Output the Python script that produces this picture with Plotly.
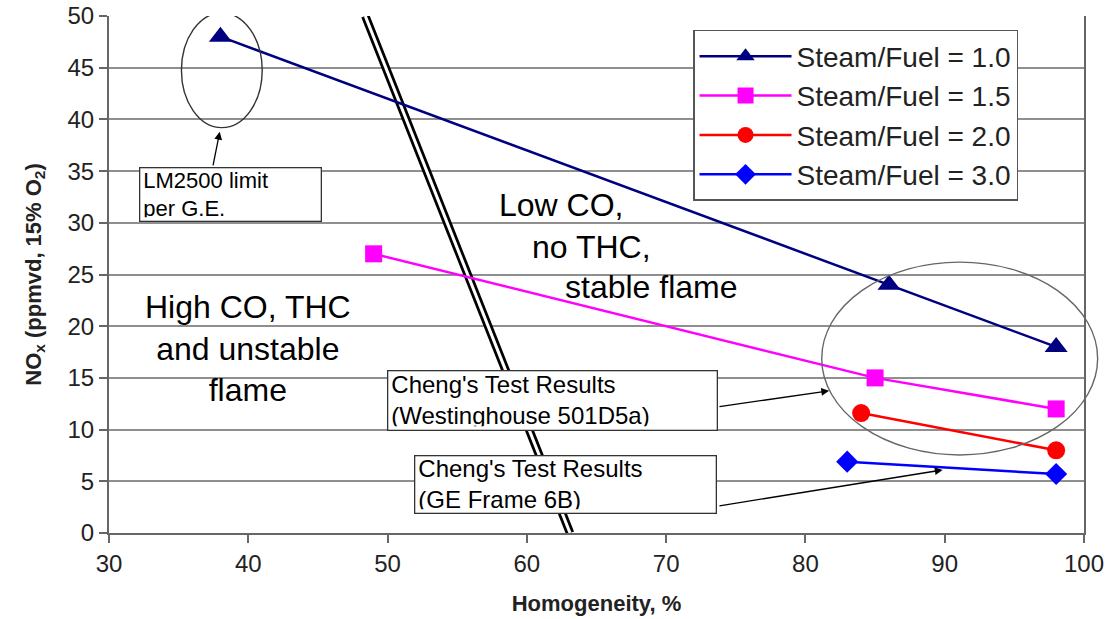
import plotly.graph_objects as go

FONT = "Liberation Sans, Arial, sans-serif"

# ---- data ----
sf10_x = [38, 86, 98]
sf10_y = [48, 24, 18]
sf15_x = [49, 85, 98]
sf15_y = [27, 15, 12]
sf20_x = [84, 98]
sf20_y = [11.6, 8]
sf30_x = [83, 98]
sf30_y = [6.9, 5.7]

series_names = ["Steam/Fuel = 1.0", "Steam/Fuel = 1.5", "Steam/Fuel = 2.0", "Steam/Fuel = 3.0"]

# boundary line (stability limit) end points
limit_x = [48.4, 63.1]
limit_y = [50, 0]

x_ticks = [30, 40, 50, 60, 70, 80, 90, 100]
y_ticks = [0, 5, 10, 15, 20, 25, 30, 35, 40, 45, 50]

fig = go.Figure()

fig.add_trace(go.Scatter(x=sf10_x, y=sf10_y, name=series_names[0], mode="lines+markers",
                         line=dict(color="#000080", width=2.5),
                         marker=dict(symbol="triangle-up", size=20, color="#000080")))
fig.add_trace(go.Scatter(x=sf15_x, y=sf15_y, name=series_names[1], mode="lines+markers",
                         line=dict(color="#FF00FF", width=2.5),
                         marker=dict(symbol="square", size=17, color="#FF00FF")))
fig.add_trace(go.Scatter(x=sf20_x, y=sf20_y, name=series_names[2], mode="lines+markers",
                         line=dict(color="#FF0000", width=2.5),
                         marker=dict(symbol="circle", size=18, color="#FF0000")))
fig.add_trace(go.Scatter(x=sf30_x, y=sf30_y, name=series_names[3], mode="lines+markers",
                         line=dict(color="#0000FF", width=2.5),
                         marker=dict(symbol="diamond", size=17, color="#0000FF")))

shapes = []
# double black boundary line
shapes.append(dict(type="line", xref="x", yref="y", x0=limit_x[0], y0=limit_y[0], x1=limit_x[1], y1=limit_y[1],
                   line=dict(color="black", width=8.5), layer="between"))
shapes.append(dict(type="line", xref="x", yref="y", x0=limit_x[0], y0=limit_y[0], x1=limit_x[1], y1=limit_y[1],
                   line=dict(color="white", width=3), layer="between"))
# ellipse around LM2500 point
shapes.append(dict(type="circle", xref="x", yref="y", x0=35.2, x1=41.0, y0=39.2, y1=50.3,
                   line=dict(color="#333333", width=1.4), layer="above"))
# big ellipse around Westinghouse results
shapes.append(dict(type="circle", xref="paper", yref="paper", x0=0.731, x1=1.014, y0=0.151, y1=0.524,
                   line=dict(color="#666666", width=1.4), layer="above"))

annotations = []
big = dict(family=FONT, size=32, color="black")
annotations.append(dict(x=40.0, y=17.8, xref="x", yref="y", text="High CO, THC<br>and unstable<br>flame",
                        showarrow=False, font=big, align="center", xanchor="center", yanchor="middle"))
annotations.append(dict(x=57.85, y=31.7, xref="x", yref="y", text="Low CO,", showarrow=False, font=big,
                        xanchor="left", yanchor="middle"))
annotations.append(dict(x=60.2, y=27.7, xref="x", yref="y", text="no THC,", showarrow=False, font=big,
                        xanchor="left", yanchor="middle"))
annotations.append(dict(x=62.6, y=23.8, xref="x", yref="y", text="stable flame", showarrow=False, font=big,
                        xanchor="left", yanchor="middle"))

# boxed labels
annotations.append(dict(x=38.75, y=32.7, xref="x", yref="y", text="LM2500 limit<br>per G.E.",
                        showarrow=False, font=dict(family=FONT, size=22, color="black"), align="left",
                        width=174, height=46, borderpad=3, bordercolor="#333333", borderwidth=1.3,
                        bgcolor="white", xanchor="center", yanchor="middle"))
annotations.append(dict(x=61.84, y=12.8, xref="x", yref="y", text="Cheng's Test Results<br>(Westinghouse 501D5a)",
                        showarrow=False, font=dict(family=FONT, size=24, color="black"), align="left",
                        width=322, height=52, borderpad=3, bordercolor="#333333", borderwidth=1.3,
                        bgcolor="white", xanchor="center", yanchor="middle"))
annotations.append(dict(x=62.75, y=4.7, xref="x", yref="y", text="Cheng's Test Results<br>(GE Frame 6B)",
                        showarrow=False, font=dict(family=FONT, size=24, color="black"), align="left",
                        width=294, height=50, borderpad=3, bordercolor="#333333", borderwidth=1.3,
                        bgcolor="white", xanchor="center", yanchor="middle"))

# arrows
arrow_style = dict(showarrow=True, text="", arrowhead=2, arrowsize=1.2, arrowwidth=1.3, arrowcolor="black",
                   xref="x", yref="y", axref="x", ayref="y")
annotations.append(dict(x=37.95, y=38.8, ax=37.45, ay=35.4, **arrow_style))
annotations.append(dict(x=81.7, y=13.75, ax=73.72, ay=12.2, **arrow_style))
annotations.append(dict(x=89.85, y=6.1, ax=73.72, ay=2.6, **arrow_style))

fig.update_layout(
    width=1114, height=619,
    margin=dict(l=109, r=30, t=16, b=86),
    paper_bgcolor="white", plot_bgcolor="white",
    font=dict(family=FONT, size=24, color="#222222"),
    showlegend=True,
    legend=dict(x=0.599, y=0.973, xanchor="left", yanchor="top",
                bgcolor="white", bordercolor="#555555", borderwidth=1.5,
                font=dict(family=FONT, size=28, color="#222222"),
                itemwidth=92, tracegroupgap=0),
    shapes=shapes,
    annotations=annotations,
    xaxis=dict(range=[30, 100], tickvals=x_ticks, ticktext=[str(v) for v in x_ticks],
               automargin=False,
               showgrid=False, zeroline=False, showline=True, linecolor="#666666", linewidth=2,
               ticks="outside", ticklen=8, tickwidth=1.5, tickcolor="#666666",
               tickfont=dict(family=FONT, size=24, color="#222222"),
               title=dict(text="Homogeneity, %", font=dict(family=FONT, size=22, color="#222222", weight="bold"),
                          standoff=20)),
    yaxis=dict(range=[0, 50], tickvals=y_ticks, ticktext=[str(v) for v in y_ticks],
               automargin=False,
               showgrid=True, gridcolor="#8f8f8f", gridwidth=1.5, zeroline=False,
               showline=True, linecolor="#666666", linewidth=2, mirror=True,
               ticks="outside", ticklen=8, tickwidth=1.5, tickcolor="#666666",
               tickfont=dict(family=FONT, size=24, color="#222222"),
               title=dict(text="NO<sub>x</sub> (ppmvd, 15% O<sub>2</sub>)",
                          font=dict(family=FONT, size=22, color="#222222", weight="bold"), standoff=20)),
)

fig.write_html("out.html")
